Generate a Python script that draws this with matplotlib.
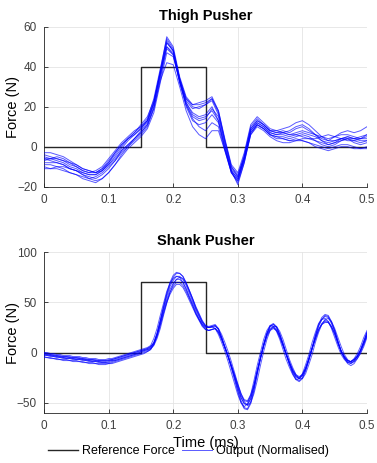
import matplotlib
matplotlib.use("Agg")
import matplotlib.pyplot as plt
import numpy as np

plt.rcParams['font.family'] = ['Liberation Sans', 'DejaVu Sans']

# sample times (s): thigh logged every 10 ms, shank every 5 ms
thigh_time = np.linspace(0, 0.5, 51)
shank_time = np.linspace(0, 0.5, 101)

# square-pulse reference force (step-post)
ref_time = [0, 0.15, 0.25, 0.5]
thigh_ref = [0, 40, 0, 0]
shank_ref = [0, 70, 0, 0]

# measured outputs, one list per trial
thigh_trials = [
    [-4,-5,-6,-7,-8,-10,-12,-13,-12,-10,-6,-2,2,5,8,10,14,24,39,54,49,34,24,20,19,21,23,16,2,-11,-15,-4,10,14,11,8,7,8,7,9,10,8,6,4,3,5,7,8,7,8,10],
    [-9,-9,-10,-11,-13,-14,-16,-17,-18,-16,-13,-9,-4,0,3,6,10,19,34,49,46,33,20,13,11,12,16,12,-1,-13,-18,-8,7,11,9,6,4,4,3,4,3,2,1,0,-1,0,1,1,0,-1,-1],
    [-6,-6,-5,-6,-8,-9,-11,-12,-13,-11,-8,-4,0,4,7,10,13,22,37,52,48,33,23,19,20,21,24,17,3,-10,-14,-5,9,13,11,8,8,9,10,12,13,11,8,5,3,3,4,5,4,4,5],
    [-10,-11,-11,-12,-13,-14,-15,-16,-15,-13,-10,-7,-3,0,4,7,11,19,33,42,41,30,18,10,6,4,8,8,-2,-13,-17,-7,6,10,8,5,3,2,2,3,4,4,3,2,1,2,3,4,4,5,6],
    [-3,-3,-4,-5,-7,-9,-11,-12,-13,-11,-7,-3,1,4,6,9,13,22,38,55,50,35,25,21,21,22,24,18,4,-9,-13,-3,11,15,12,9,8,7,6,6,5,4,4,5,6,5,4,3,3,4,6],
    [-8,-8,-8,-9,-11,-12,-14,-15,-16,-14,-11,-7,-2,1,4,7,11,20,35,50,47,32,21,15,13,14,19,15,1,-12,-19,-8,6,11,9,6,5,5,4,5,6,5,3,1,0,1,3,4,2,1,2],
    [-7,-6,-6,-7,-9,-10,-12,-13,-13,-12,-9,-6,-2,1,4,8,12,21,36,52,48,34,22,17,15,16,20,13,-1,-12,-16,-6,8,12,10,7,6,6,5,6,7,6,5,3,2,3,4,4,3,2,3],
    [-5,-6,-7,-8,-10,-11,-13,-14,-14,-12,-8,-3,1,4,7,11,15,23,37,50,46,32,21,14,10,8,12,10,-2,-13,-17,-6,8,12,10,7,6,7,8,10,11,9,6,3,1,2,4,5,4,3,3],
    [-11,-11,-10,-10,-11,-12,-14,-16,-17,-16,-13,-9,-5,-1,2,5,9,17,32,47,45,33,22,16,14,15,18,13,0,-12,-16,-6,7,11,9,6,5,4,3,3,3,2,0,-1,-2,-1,0,0,-1,-1,0],
    [-6,-7,-8,-9,-11,-12,-13,-14,-14,-12,-9,-5,-1,3,6,9,13,22,37,53,48,34,24,21,22,23,25,18,3,-10,-15,-5,9,13,11,8,7,7,6,7,8,7,6,5,4,5,6,6,5,4,4],
]

shank_trials = [
    [0,-1,-2,-2,-3,-3,-4,-4,-4,-5,-5,-5,-6,-6,-7,-7,-7,-8,-8,-8,-7,-7,-6,-5,-4,-3,-2,-1,0,1,2,3,4,6,
     9,19,32,45,58,68,75,79,79,76,69,61,53,44,37,30,26,25,26,27,23,15,5,-4,-15,-26,-38,-48,-55,-56,-49,-37,-21,-6,7,19,
     26,28,25,18,8,-2,-12,-20,-26,-28,-25,-18,-7,4,16,26,33,36,35,29,21,11,1,-5,-9,-11,-8,-4,2,11,20],
    [-4,-5,-5,-6,-6,-7,-7,-7,-8,-8,-8,-9,-9,-10,-10,-10,-11,-11,-11,-11,-11,-10,-9,-8,-7,-6,-5,-4,-3,-2,-1,0,1,3,
     8,17,28,40,51,60,66,70,70,67,61,54,47,39,33,27,23,22,23,24,20,13,5,-4,-13,-23,-33,-43,-48,-49,-44,-33,-19,-6,7,17,
     23,25,22,16,7,-2,-10,-18,-23,-25,-22,-16,-7,4,14,23,29,32,31,26,19,9,1,-5,-8,-9,-7,-4,2,9,18],
    [-3,-3,-4,-4,-5,-5,-6,-6,-6,-7,-7,-7,-8,-8,-9,-9,-9,-10,-10,-10,-10,-9,-8,-7,-6,-5,-4,-3,-2,-1,0,1,2,4,
     7,14,24,37,49,60,68,73,75,74,69,62,54,46,39,32,27,25,25,26,24,18,10,1,-9,-20,-31,-41,-49,-53,-50,-41,-28,-13,1,13,
     22,26,26,21,13,3,-7,-15,-22,-26,-26,-21,-12,-2,10,20,28,33,34,31,24,15,6,-2,-7,-10,-9,-6,-1,6,15],
    [0,0,-1,-1,-2,-2,-3,-3,-3,-4,-4,-4,-5,-5,-6,-6,-6,-7,-7,-7,-6,-6,-5,-4,-3,-2,-1,0,1,2,3,4,5,7,
     14,24,37,49,61,69,74,76,75,70,63,55,47,39,33,28,25,25,26,24,18,10,1,-9,-20,-31,-42,-50,-54,-51,-42,-28,-13,0,13,22,
     27,26,21,13,3,-7,-15,-22,-27,-26,-21,-12,-2,10,20,29,33,34,31,24,15,6,-2,-7,-10,-9,-6,-1,6,15,22],
    [-2,-3,-3,-4,-4,-5,-5,-6,-6,-6,-7,-7,-7,-8,-8,-9,-9,-9,-10,-10,-9,-8,-8,-7,-6,-5,-4,-3,-2,-1,1,2,3,4,
     9,17,29,42,53,63,69,73,73,70,64,56,49,41,34,28,24,22,23,24,21,14,5,-4,-14,-24,-35,-45,-51,-52,-46,-34,-19,-6,7,18,
     24,26,23,16,7,-2,-11,-19,-24,-26,-23,-16,-6,5,17,28,35,38,37,31,22,11,1,-6,-11,-13,-11,-6,0,8,17],
    [-2,-2,-3,-3,-4,-4,-5,-5,-5,-6,-6,-6,-7,-7,-8,-8,-8,-9,-9,-9,-8,-8,-7,-6,-5,-4,-3,-2,-1,0,1,2,3,5,
     10,19,32,46,59,70,77,80,79,76,70,62,54,45,38,31,27,26,27,28,24,15,5,-4,-15,-27,-39,-50,-56,-57,-51,-38,-22,-6,8,19,
     27,29,26,18,9,-2,-12,-21,-27,-29,-26,-18,-8,4,16,27,33,37,36,30,22,11,1,-5,-10,-11,-9,-4,2,11,20],
    [-5,-5,-6,-6,-7,-7,-8,-8,-8,-9,-9,-9,-10,-10,-11,-11,-11,-12,-12,-12,-11,-11,-10,-9,-8,-7,-6,-5,-4,-3,-2,-1,1,3,
     8,16,27,39,50,58,64,68,68,65,59,52,45,38,32,26,23,22,23,24,20,13,5,-4,-13,-22,-32,-41,-47,-48,-42,-32,-18,-5,6,16,
     22,24,22,15,7,-2,-10,-17,-22,-24,-22,-15,-6,4,13,22,28,30,30,25,18,9,1,-4,-8,-9,-7,-4,2,9,17],
    [-1,-2,-2,-3,-3,-4,-4,-4,-5,-5,-5,-6,-6,-7,-7,-7,-8,-8,-8,-8,-8,-7,-6,-5,-4,-3,-2,-1,0,1,2,3,4,6,
     10,19,31,44,56,66,72,76,76,73,67,59,51,43,36,30,26,25,26,27,23,15,6,-3,-13,-24,-35,-45,-51,-52,-46,-34,-19,-5,8,19,
     26,28,25,18,9,-1,-10,-18,-24,-26,-23,-16,-6,4,14,23,28,31,30,26,19,10,2,-4,-8,-9,-7,-3,3,11,20],
]

x_ticks = [0, 0.1, 0.2, 0.3, 0.4, 0.5]
x_tick_labels = ['0', '0.1', '0.2', '0.3', '0.4', '0.5']
thigh_yticks = [-20, 0, 20, 40, 60]
shank_yticks = [-50, 0, 50, 100]

fig = plt.figure(figsize=(3.77, 4.63), dpi=100)
ax1 = fig.add_axes([0.1167, 0.5968, 0.8568, 0.3455])
ax2 = fig.add_axes([0.1167, 0.1086, 0.8568, 0.3465])

panels = [
    (ax1, 'Thigh Pusher', thigh_ref, thigh_time, thigh_trials, (-20, 60), thigh_yticks),
    (ax2, 'Shank Pusher', shank_ref, shank_time, shank_trials, (-60, 100), shank_yticks),
]

for ax, title, ref, t, trials, ylim, yticks in panels:
    ref_line, = ax.plot(ref_time, ref, drawstyle='steps-post', color='#262626',
                        lw=1.0, zorder=2, label='Reference Force')
    for trial in trials:
        out_line, = ax.plot(t, trial, color=(0, 0, 1), lw=0.7, alpha=0.65,
                            zorder=3, label='Output (Normalised)')
    ax.set_xlim(0, 0.5)
    ax.set_ylim(*ylim)
    ax.set_xticks(x_ticks)
    ax.set_xticklabels(x_tick_labels)
    ax.set_yticks(yticks)
    ax.grid(True, color='#e4e4e4', lw=0.6)
    ax.set_axisbelow(True)
    for side in ('top', 'right'):
        ax.spines[side].set_visible(False)
    for side in ('left', 'bottom'):
        ax.spines[side].set_color('#262626')
        ax.spines[side].set_linewidth(0.6)
    ax.tick_params(direction='in', length=3, width=0.6, colors='#262626',
                   labelsize=8.5, labelcolor='#404040', pad=5)
    ax.set_title(title, fontsize=10.5, fontweight='bold', pad=5)
    ax.set_ylabel('Force (N)', fontsize=10.5)
    ax.yaxis.set_label_coords(-0.075, 0.5)

ax2.set_xlabel('Time (ms)', fontsize=10.5, labelpad=3)

fig.legend([ref_line, out_line], ['Reference Force', 'Output (Normalised)'],
           loc='center', bbox_to_anchor=(0.5, 0.025), ncol=2, frameon=False,
           fontsize=9, handlelength=2.4, handletextpad=0.3, columnspacing=0.6)

fig.savefig('out.png', dpi=100)
